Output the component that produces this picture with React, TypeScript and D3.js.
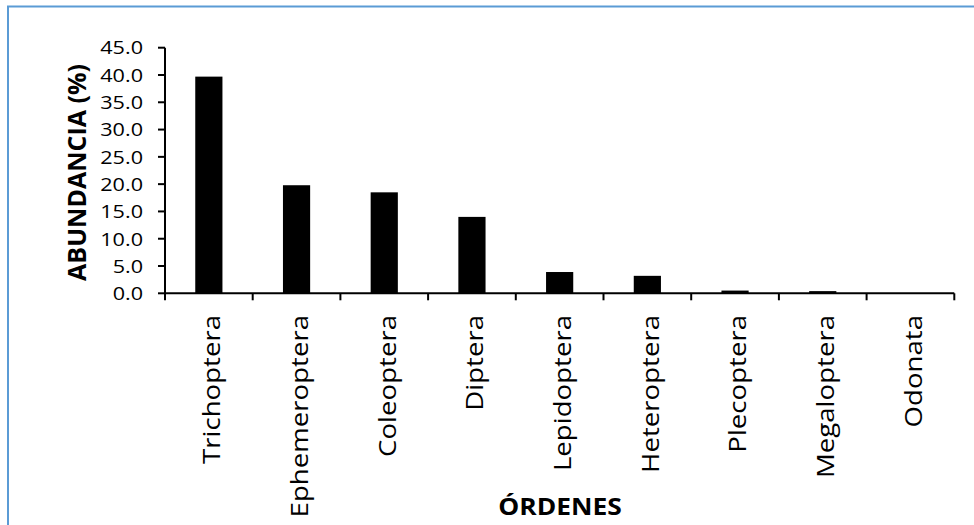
import React from "react";
import * as d3 from "d3";

const categories = ["Trichoptera","Ephemeroptera","Coleoptera","Diptera","Lepidoptera","Heteroptera","Plecoptera","Megaloptera","Odonata"];
const values = [39.7, 19.8, 18.5, 14.0, 3.9, 3.2, 0.5, 0.4, 0.0];
const yTicks = [0, 5, 10, 15, 20, 25, 30, 35, 40, 45];
const yTitle = "ABUNDANCIA (%)";
const xTitle = "ÓRDENES";

const W = 974, H = 525;
const left = 165, right = 954.3, top = 47.7, bottom = 293.3;
const FONT = "'Open Sans', sans-serif";

export default function App() {
  const x = d3.scaleBand<string>().domain(categories).range([left, right]).paddingInner(0.69).paddingOuter(0.345);
  const band = d3.scaleBand<string>().domain(categories).range([left, right]);
  const y = d3.scaleLinear().domain([0, 45]).range([bottom, top]);
  const fmt = d3.format(".1f");
  const boundaries = [...categories.map(c => band(c) as number), right];

  return (
    <svg width={W} height={H} style={{ position: "absolute", left: 0, top: 0, background: "#fff" }} fontFamily={FONT}>
      <rect x={0} y={0} width={W} height={H} fill="#fff" />
      <rect x={8} y={6.5} width={W + 20} height={H + 20} fill="none" stroke="#5B9BD5" strokeWidth={2} />
      {categories.map((c, i) => (
        <rect key={c} x={x(c)} y={y(values[i])} width={x.bandwidth()} height={bottom - y(values[i])} fill="#000" />
      ))}
      <line x1={left} x2={left} y1={top} y2={bottom} stroke="#000" strokeWidth={2} />
      {yTicks.map(t => (
        <g key={t}>
          <line x1={left - 7} x2={left} y1={y(t)} y2={y(t)} stroke="#000" strokeWidth={2} />
          <text transform={`translate(143,${y(t)}) scale(1.2,1)`} textAnchor="end" dominantBaseline="central" fontSize={18} fill="#000">{fmt(t)}</text>
        </g>
      ))}
      <line x1={left} x2={right} y1={bottom} y2={bottom} stroke="#000" strokeWidth={2} />
      {boundaries.map((b, i) => (
        <line key={i} x1={b} x2={b} y1={bottom} y2={bottom + 7} stroke="#000" strokeWidth={2} />
      ))}
      {categories.map(c => (
        <text key={c} transform={`translate(${(band(c) as number) + band.bandwidth() / 2 + 2},315) rotate(-90) scale(1.15,1)`} textAnchor="end" dominantBaseline="central" fontSize={24} fill="#000">{c}</text>
      ))}
      <text transform={`translate(76,172.5) rotate(-90)`} textAnchor="middle" dominantBaseline="central" fontSize={25} fontWeight="bold" fill="#000">{yTitle}</text>
      <text transform={`translate(560,515) scale(1.1,1)`} textAnchor="middle" fontSize={24} fontWeight="bold" fill="#000">{xTitle}</text>
    </svg>
  );
}
